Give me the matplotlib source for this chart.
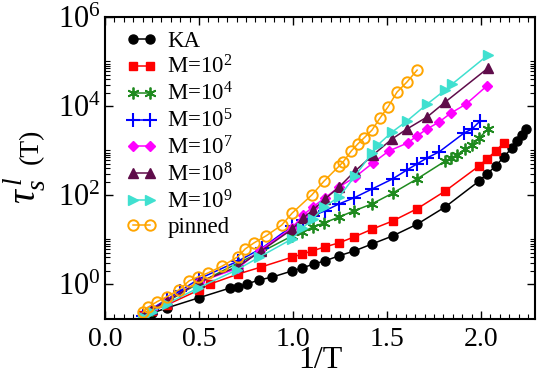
import numpy as np
import matplotlib
matplotlib.use('Agg')
from matplotlib import pyplot as plt
from matplotlib.ticker import FixedLocator, MultipleLocator, LogFormatterMathtext, NullFormatter

plt.rcParams['font.family'] = 'Liberation Serif'
plt.rcParams['mathtext.fontset'] = 'custom'
plt.rcParams['mathtext.rm'] = 'Liberation Serif'
plt.rcParams['mathtext.it'] = 'Liberation Serif:italic'

# data (x = 1/T, y = tau_s^l)
x_ka = [0.20, 0.25, 0.33, 0.50, 0.665, 0.71, 0.755, 0.82, 0.89, 0.995, 1.05, 1.11, 1.17, 1.245,
        1.325, 1.42, 1.53, 1.66, 1.81, 1.99, 2.03, 2.08, 2.12, 2.165, 2.19, 2.22, 2.24]
y_ka = [0.19, 0.22, 0.29, 0.49, 0.81, 0.86, 1.0, 1.23, 1.43, 1.96, 2.3, 2.8, 3.3, 4.3,
        5.5, 7.9, 12, 22, 54, 206, 296, 450, 715, 1140, 1620, 2230, 3040]

x_m2 = [0.20, 0.25, 0.33, 0.50, 0.56, 0.71, 0.83, 0.995, 1.05, 1.10, 1.17, 1.245, 1.325, 1.42,
        1.53, 1.66, 1.81, 1.99, 2.03, 2.08, 2.12]
y_m2 = [0.20, 0.25, 0.34, 0.73, 1.0, 1.68, 2.4, 4.0, 4.7, 5.5, 6.8, 8.4, 11.4, 17,
        26, 49, 123, 450, 645, 975, 1480]

x_m4 = [0.20, 0.25, 0.33, 0.50, 0.71, 0.83, 0.995, 1.05, 1.106, 1.165, 1.245, 1.325, 1.42, 1.53,
        1.66, 1.81, 1.84, 1.872, 1.915, 1.952, 1.99, 2.037]
y_m4 = [0.19, 0.26, 0.40, 1.05, 3.0, 5.2, 12, 14.7, 19, 23.5, 32, 44, 63, 110,
        230, 580, 680, 790, 1075, 1320, 1900, 3040]

x_m5 = [0.20, 0.25, 0.33, 0.40, 0.50, 0.71, 0.835, 0.995, 1.053, 1.106, 1.17, 1.245, 1.324, 1.42,
        1.53, 1.606, 1.66, 1.713, 1.777, 1.91, 1.952, 1.995]
y_m5 = [0.19, 0.28, 0.45, 0.70, 1.3, 3.3, 6.4, 20, 27, 34, 44, 63, 86, 136,
        230, 365, 500, 680, 930, 2470, 3040, 4600]

x_m7 = [0.20, 0.25, 0.33, 0.50, 0.71, 0.824, 0.995, 1.053, 1.106, 1.17, 1.245, 1.33, 1.425, 1.51,
        1.61, 1.66, 1.713, 1.777, 1.84, 1.92, 2.03]
y_m7 = [0.19, 0.27, 0.42, 1.1, 2.3, 5.8, 18, 35, 54, 86, 151, 253, 525, 975,
        1480, 2130, 3040, 4370, 6940, 11000, 28000]

x_m8 = [0.20, 0.25, 0.33, 0.50, 0.71, 0.83, 0.995, 1.053, 1.106, 1.17, 1.245, 1.33, 1.425, 1.527,
        1.606, 1.713, 1.81, 2.037]
y_m8 = [0.19, 0.27, 0.42, 1.1, 2.5, 5.5, 17, 30, 46, 81, 151, 345, 790, 1820,
        3040, 5650, 12300, 71000]

x_m9 = [0.20, 0.25, 0.33, 0.495, 0.70, 0.82, 0.995, 1.05, 1.106, 1.165, 1.245, 1.33, 1.42, 1.45,
        1.527, 1.606, 1.713, 1.81, 1.846, 2.037]
y_m9 = [0.18, 0.24, 0.36, 0.81, 2.06, 4.0, 10.3, 18, 29, 54, 90, 268, 880, 1320,
        2600, 4600, 11000, 23000, 31000, 140000]

x_pin = [0.202, 0.229, 0.277, 0.33, 0.394, 0.447, 0.495, 0.548, 0.622, 0.707, 0.745, 0.793, 0.856, 0.94,
         0.995, 1.10, 1.165, 1.245, 1.266, 1.31, 1.346, 1.378, 1.42, 1.463, 1.505, 1.553, 1.606, 1.66]
y_pin = [0.23, 0.30, 0.40, 0.52, 0.74, 1.17, 1.44, 1.77, 2.5, 4.1, 6.1, 8.4, 12, 21,
         39, 100, 205, 445, 550, 975, 1420, 1920, 2870, 5400, 9500, 20500, 34600, 64000]

fig = plt.figure(figsize=(5.38, 3.76), dpi=100)
ax = fig.add_axes([105/538, 57/376, 430/538, 302/376])

lw = 1.1
ax.plot(x_ka, y_ka, '-o', color='black', ms=6.5, lw=lw, label='KA')
ax.plot(x_m2, y_m2, '-s', color='#ff0000', ms=6, lw=lw, label=r'M=10$^2$')
ax.plot(x_m4, y_m4, '-', marker=(6, 2, 0), color='#1f8a1f', ms=8.5, mew=1.3, lw=lw, label=r'M=10$^4$')
ax.plot(x_m5, y_m5, '-+', color='#0000ff', ms=10, mew=1.5, lw=lw, label=r'M=10$^5$')
ax.plot(x_m7, y_m7, '-D', color='#ff00ff', ms=5.5, lw=lw, label=r'M=10$^7$')
ax.plot(x_m8, y_m8, '-^', color='#5f0c4a', ms=7.5, lw=lw, label=r'M=10$^8$')
ax.plot(x_m9, y_m9, '->', color='#40e0d0', ms=7.5, lw=lw, label=r'M=10$^9$')
ax.plot(x_pin, y_pin, '-o', color='#ffa500', mfc='none', ms=7.5, mew=1.4, lw=lw, label='pinned')

ax.set_yscale('log')
ax.set_xlim(0, 2.287)
ax.set_ylim(0.163, 1e6)
ax.yaxis.set_major_locator(FixedLocator([1, 1e2, 1e4, 1e6]))
ax.yaxis.set_major_formatter(LogFormatterMathtext())
ax.yaxis.set_minor_locator(FixedLocator([n * 10.0**e for e in (0, 2, 4) for n in range(2, 11)]))
ax.yaxis.set_minor_formatter(NullFormatter())
ax.xaxis.set_major_locator(MultipleLocator(0.5))
ax.xaxis.set_minor_locator(MultipleLocator(0.05))
ax.xaxis.set_major_formatter(matplotlib.ticker.FormatStrFormatter('%.1f'))

ax.tick_params(which='both', direction='in', top=True, right=True)
ax.tick_params(which='major', length=6, width=1.0)
ax.tick_params(which='minor', length=3.5, width=0.8)
ax.tick_params(axis='x', labelsize=20, pad=6)
ax.tick_params(axis='y', labelsize=22, pad=3)
for s in ax.spines.values():
    s.set_linewidth(1.5)

ax.set_xlabel('1/T', fontsize=23)
ax.xaxis.set_label_coords(0.5, -0.09)
fig.text(0.047, 0.495, r'$\tau_s^{\,l}$', rotation=90, fontsize=28, ha='center', va='center')
fig.text(0.058, 0.612, '(T)', rotation=90, fontsize=20, ha='center', va='center')

ax.legend(loc='upper left', bbox_to_anchor=(126/538, 1 - 31/376), bbox_transform=fig.transFigure,
          frameon=False, fontsize=16.5, numpoints=2, handlelength=1.35, handletextpad=0.45,
          labelspacing=0.16, borderpad=0, borderaxespad=0)

fig.savefig('out.png', dpi=100)
